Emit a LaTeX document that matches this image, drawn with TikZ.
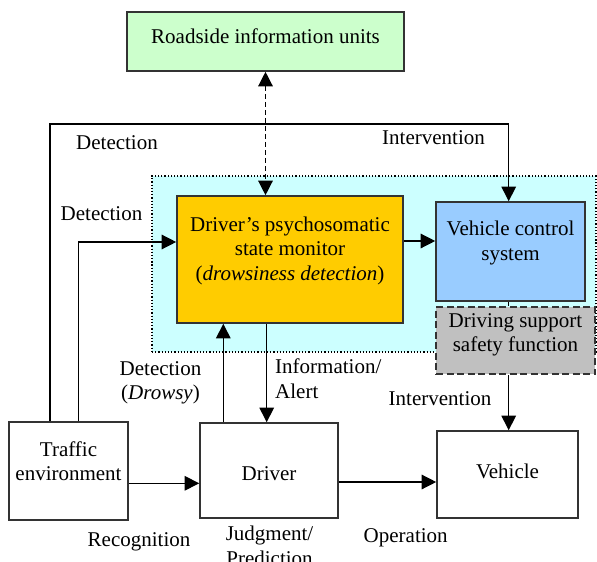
\documentclass[tikz,border=0pt]{standalone}
\usepackage{fontspec}
\setmainfont{Liberation Serif}
\usetikzlibrary{arrows.meta,calc}
\definecolor{rsugreen}{HTML}{CCFFCC}
\definecolor{zonecyan}{HTML}{CCFFFF}
\definecolor{monorange}{HTML}{FFCC00}
\definecolor{vcsblue}{HTML}{99CCFF}
\definecolor{dssgray}{HTML}{C0C0C0}
\definecolor{edgegray}{HTML}{333333}

\begin{document}
\begin{tikzpicture}[x=1bp,y=-1bp,
  font=\fontsize{21bp}{24.5bp}\selectfont,
  box/.style={draw=edgegray,line width=1.6bp,inner sep=0},
  zone/.style={fill=zonecyan,draw,dotted,line width=1.2bp},
  conn/.style={line width=1.3bp,-{Triangle[length=14.5bp,width=14.5bp]}},
  dconn/.style={line width=1.3bp,dash pattern=on 5bp off 3bp,{Triangle[length=14.5bp,width=14.5bp]}-{Triangle[length=14.5bp,width=14.5bp]}}]
\useasboundingbox (0,0) rectangle (597,562);
\node[zone,minimum width=444bp,minimum height=176bp] (zone) at (374,264) {};
\node[box,fill=rsugreen,minimum width=277bp,minimum height=59bp] (rsu) at (265.5,41.5) {};
\node[box,fill=monorange,minimum width=226bp,minimum height=127bp] (mon) at (290,259.5) {};
\node[box,fill=vcsblue,minimum width=149bp,minimum height=99bp] (vcs) at (510.5,251.5) {};
\node[box,fill=dssgray,line width=2bp,dash pattern=on 7bp off 3.5bp,minimum width=159bp,minimum height=67bp] (dss) at (515.5,340.5) {};
\node[box,minimum width=119bp,minimum height=98bp] (env) at (68.5,471) {};
\node[box,minimum width=138bp,minimum height=95bp] (drv) at (269,470.5) {};
\node[box,minimum width=141bp,minimum height=87bp] (veh) at (507.5,474.5) {};

\node (rsuT) at ($(rsu)+(0,-5.5)$) {Roadside information units};
\node[align=center] (monT) at ($(mon)+(0,-9)$) {Driver’s psychosomatic\\state monitor\\ (\textit{drowsiness detection})};
\node[align=center] (vcsT) at ($(vcs)+(0,-8.5)$) {Vehicle control\\system};
\node[align=center] (dssT) at ($(dss)+(0,-5.5)$) {Driving support\\safety function};
\node[align=center] (envT) at ($(env)+(0,-10)$) {Traffic\\environment};
\node (drvT) at ($(drv)+(0,3)$) {Driver};
\node (vehT) at ($(veh)+(0,-3)$) {Vehicle};

\coordinate (topY) at (0,124);
\coordinate (outA) at ($(env.north)+(-18.5,0)$);
\coordinate (inA) at ($(env.north)+(10.2,0)$);
\coordinate (vcsIn) at ($(vcs.north)+(-1.8,0)$);
\coordinate (monIn) at ($(mon.west)+(0,-17.5)$);
\coordinate (monOut) at ($(mon.east)+(0,-18.5)$);
\coordinate (drvUp) at ($(drv.north)+(-45.7,0)$);
\coordinate (drvIn) at ($(drv.north)+(-2.3,0)$);
\coordinate (envOut) at ($(env.east)+(0,12.3)$);
\coordinate (drvOut) at ($(drv.east)+(0,11.5)$);

\draw[conn] (outA) |- (topY -| vcsIn) -- (vcsIn);
\draw[conn] (inA) |- (monIn);
\draw[conn] (monOut) -- (monOut -| vcs.west);
\draw[dconn] (rsu.south) -- (rsu.south |- mon.north);
\draw[conn] (drvUp) -- (drvUp |- mon.south);
\draw[conn] (drvIn |- mon.south) -- (drvIn);
\draw[conn] (envOut) -- (envOut -| drv.west);
\draw[conn] (drvOut) -- (drvOut -| veh.west);
\draw[line width=1.3bp] (vcsIn |- vcs.south) -- (vcsIn |- dss.north);
\draw[conn] (vcsIn |- dss.south) -- (vcsIn |- veh.north);

\node (detTop) at (117,143) {Detection};
\node (intTop) at (433.5,138) {Intervention};
\node (detMid) at (101.5,214) {Detection};
\node[align=center] (detDrw) at (160.5,383) {Detection\\(\textit{Drowsy})};
\node[align=left,anchor=west,inner sep=0] (infAl) at (275,378.5) {Information/\\Alert};
\node (intLow) at (440,399) {Intervention};
\node (recog) at (139,542) {Recognition};
\node[align=center] (judg) at (269.5,546) {Judgment/\\Prediction};
\node (oper) at (405.7,538) {Operation};
\end{tikzpicture}
\end{document}
